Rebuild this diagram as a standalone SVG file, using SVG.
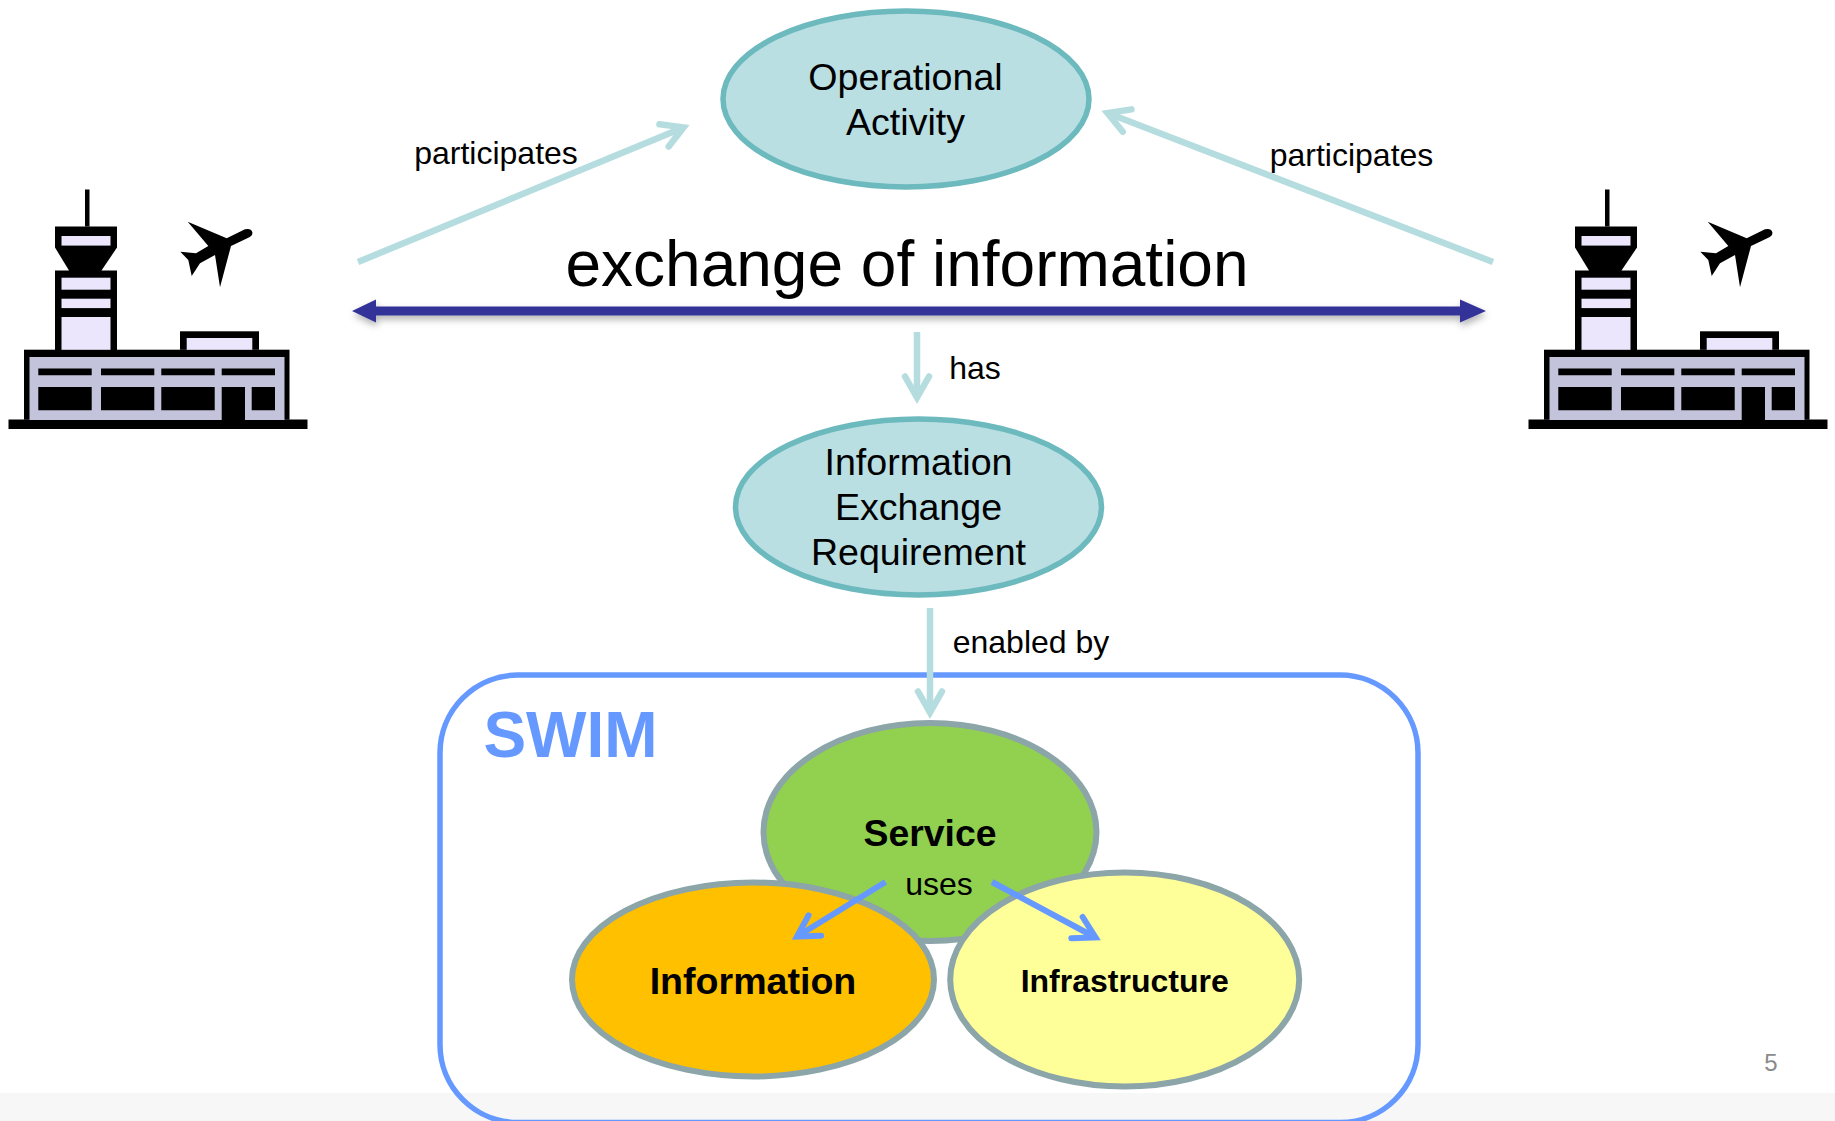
<svg xmlns="http://www.w3.org/2000/svg" width="1835" height="1121" viewBox="0 0 1835 1121">
<style>
text{font-family:"Liberation Sans",Arial,sans-serif;fill:#000;text-anchor:middle}
.oval{fill:#b9dfe3;stroke:#6cb9be;stroke-width:5.5}
.sw{stroke:#8ba5a8;stroke-width:6}
.lbl{font-size:32px}
.nm{font-size:37.6px}
.t{stroke:#b5dde0;stroke-width:6.500;fill:none}
.b{stroke:#6699ff;stroke-width:6;fill:none}
.k{fill:#000}
.w{fill:#ece6fd}
</style>
<defs>
<marker id="ot" markerUnits="userSpaceOnUse" markerWidth="40" markerHeight="40" refX="30" refY="20" orient="auto" overflow="visible"><path d="M9 8L30 20L9 32" fill="none" stroke="#b5dde0" stroke-width="6.500" stroke-linecap="round" stroke-linejoin="miter"/></marker>
<marker id="ob" markerUnits="userSpaceOnUse" markerWidth="40" markerHeight="40" refX="30" refY="20" orient="auto" overflow="visible"><path d="M9 8L30 20L9 32" fill="none" stroke="#6699ff" stroke-width="6" stroke-linecap="round" stroke-linejoin="miter"/></marker>
<filter id="sh" x="-5%" y="-200%" width="110%" height="500%"><feDropShadow dx="1" dy="4" stdDeviation="3.500" flood-color="#000" flood-opacity=".3"/></filter>
<g id="airport">
<rect class="k" x="8.500" y="419.500" width="299" height="9.500"/>
<rect class="k" x="24" y="349.700" width="265.500" height="70"/>
<rect x="29.500" y="357" width="255" height="63" fill="#c3c3dc"/>
<rect class="k" x="85" y="189.500" width="4.500" height="37"/>
<path class="k" d="M55 226.500H117V247.500L101.500 270.500H117V350H55V270.500H69L55 247.500Z"/>
<rect class="w" x="61.500" y="236" width="49" height="9.600"/>
<rect class="w" x="61.500" y="277.700" width="49" height="12"/>
<rect class="w" x="61.500" y="298.700" width="49" height="9.400"/>
<rect class="w" x="61.500" y="317" width="49" height="32.800"/>
<rect class="k" x="180" y="331.300" width="79" height="18.500"/>
<rect class="w" x="186.700" y="338" width="65.600" height="11.800"/>
<path class="k" d="M38.300 368.600h53.400v6.700h-53.400zM101 368.600h53.300v6.700h-53.300zM161.300 368.600h53.400v6.700h-53.400zM221.700 368.600h53.300v6.700h-53.300zM38.300 387h53.400v23.300h-53.400zM101 387h53.300v23.300h-53.300zM161.300 387h53.400v23.300h-53.400zM221.700 387h23.300v33h-23.300zM251.700 387h23.300v23.300h-23.300z"/>
<path class="k" d="M187.700 221.700L226.700 238.300L245 229.300Q251 228 252.300 232Q253 236 248.300 237.700L231 246L220 287.300L215 255L200 263.300L191.700 276L188.300 260L180.300 251.700L196 253.300L208.300 246Z"/>
</g>
</defs>
<rect width="1835" height="1121" fill="#fff"/>
<rect y="1093" width="1835" height="28" fill="#f7f7f7"/>
<g id="swim-box"><rect x="440" y="675" width="978" height="447.500" rx="78" fill="none" stroke="#6699ff" stroke-width="5.500"/><text x="570.500" y="757" font-size="64" font-weight="bold" style="fill:#6699ff">SWIM</text></g>
<g id="airport-left"><use href="#airport"/></g>
<g id="airport-right"><use href="#airport" x="1520"/></g>
<g id="operational-activity"><ellipse class="oval" cx="906" cy="99" rx="183" ry="88"/><text class="nm" x="905.500" y="90">Operational</text><text class="nm" x="905.500" y="135">Activity</text></g>
<g id="information-exchange-requirement"><ellipse class="oval" cx="918.500" cy="507" rx="183" ry="88"/><text class="nm" x="918.500" y="475">Information</text><text class="nm" x="918.500" y="520">Exchange</text><text class="nm" x="918.500" y="565">Requirement</text></g>
<g id="service"><ellipse class="sw" cx="930" cy="832" rx="166.500" ry="109" fill="#92d050"/><text x="930" y="846" font-size="37.400" font-weight="bold">Service</text></g>
<g id="information"><ellipse class="sw" cx="753" cy="979.500" rx="181" ry="97" fill="#ffc000"/><text x="753" y="994" font-size="37.600" font-weight="bold">Information</text></g>
<g id="infrastructure"><ellipse class="sw" cx="1124.700" cy="979.500" rx="174.500" ry="107" fill="#ffff99"/><text x="1124.700" y="992" font-size="32" font-weight="bold">Infrastructure</text></g>
<g id="connectors">
<line class="t" x1="358" y1="262" x2="683.500" y2="127.400" marker-end="url(#ot)"/>
<line class="t" x1="1493" y1="262" x2="1107.500" y2="113" marker-end="url(#ot)"/>
<line class="t" x1="917" y1="332" x2="917" y2="397.500" marker-end="url(#ot)"/>
<line class="t" x1="930" y1="608" x2="930" y2="712.500" marker-end="url(#ot)"/>
<g filter="url(#sh)"><path d="M352 311L376 299.500V306.500H1460V299.500L1486 311L1460 322.500V315.500H376V322.500Z" fill="#333399"/></g>
<line class="b" x1="885.500" y1="882" x2="797" y2="936.500" marker-end="url(#ob)"/>
<line class="b" x1="992" y1="882" x2="1095.500" y2="937.500" marker-end="url(#ob)"/>
</g>
<g id="labels">
<text x="907" y="286" font-size="64">exchange of information</text>
<text class="lbl" x="496" y="164">participates</text>
<text class="lbl" x="1351.500" y="166">participates</text>
<text class="lbl" x="975" y="379">has</text>
<text class="lbl" x="1031" y="653">enabled by</text>
<text class="lbl" x="939" y="895">uses</text>
<text x="1771" y="1071" font-size="24" style="fill:#8a8a8a">5</text>
</g>
</svg>
